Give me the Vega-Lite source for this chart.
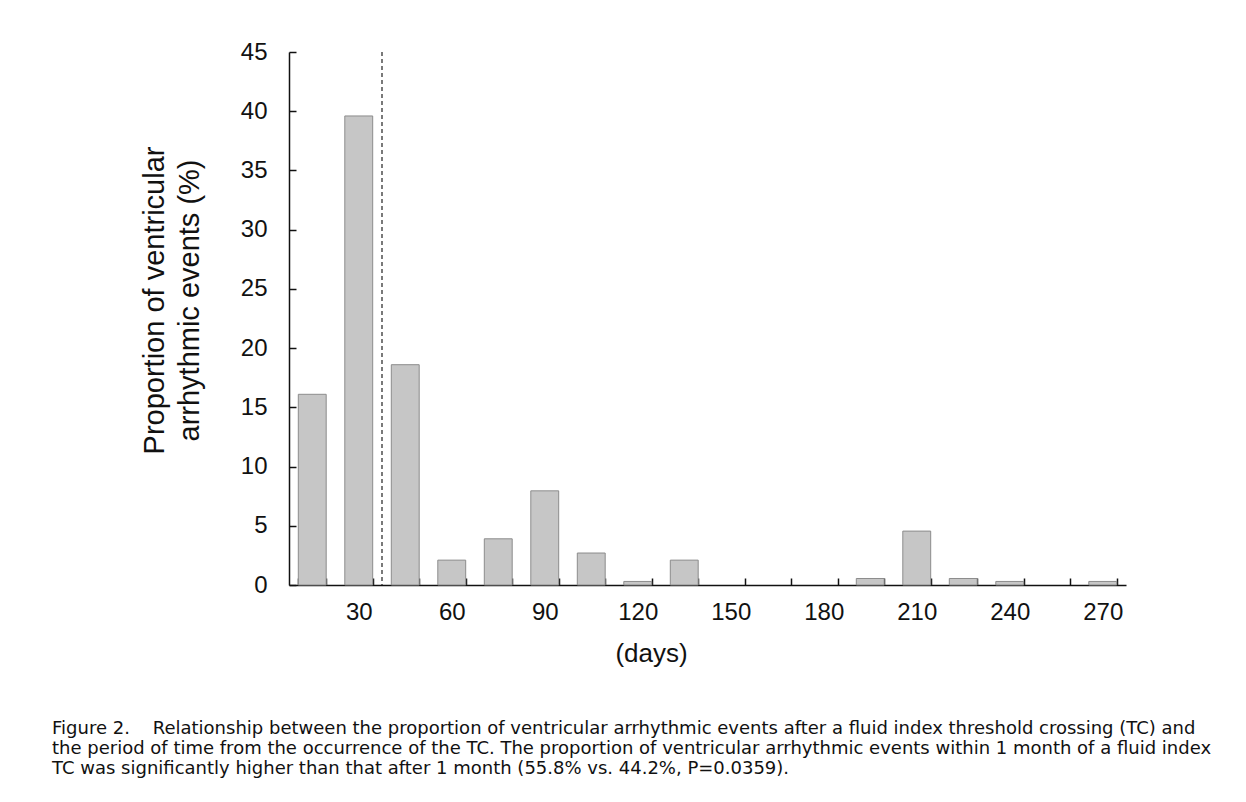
{
  "$schema": "https://vega.github.io/schema/vega-lite/v6.json",
  "autosize": {"type": "none"},
  "padding": {"left": 289, "top": 52, "right": 120, "bottom": 217},
  "width": 837,
  "height": 533,
  "background": "white",
  "config": {
    "view": {"stroke": null},
    "font": "Liberation Sans",
    "axis": {
      "domainColor": "#111",
      "domainWidth": 1.5,
      "tickColor": "#111",
      "tickWidth": 1.5,
      "labelColor": "#111",
      "titleColor": "#111",
      "labelFont": "Liberation Sans",
      "titleFont": "Liberation Sans",
      "labelFontSize": 24,
      "titleFontSize": 26,
      "titleFontWeight": "normal",
      "grid": false
    }
  },
  "title": {
    "text": [
      "Figure 2.\u00a0\u00a0\u00a0\u00a0Relationship between the proportion of ventricular arrhythmic events after a fluid index threshold crossing (TC) and",
      "the period of time from the occurrence of the TC. The proportion of ventricular arrhythmic events within 1 month of a fluid index",
      "TC was significantly higher than that after 1 month (55.8% vs. 44.2%, P=0.0359)."
    ],
    "orient": "bottom",
    "anchor": "start",
    "frame": "group",
    "dx": -237,
    "offset": 54,
    "font": "DejaVu Sans",
    "fontSize": 18,
    "fontWeight": "normal",
    "lineHeight": 20,
    "color": "#111"
  },
  "data": {
    "values": [
      {"day": 15, "pct": 16.1},
      {"day": 30, "pct": 39.6},
      {"day": 45, "pct": 18.6},
      {"day": 60, "pct": 2.1},
      {"day": 75, "pct": 3.9},
      {"day": 90, "pct": 7.95},
      {"day": 105, "pct": 2.7},
      {"day": 120, "pct": 0.3},
      {"day": 135, "pct": 2.1},
      {"day": 150, "pct": 0},
      {"day": 165, "pct": 0},
      {"day": 180, "pct": 0},
      {"day": 195, "pct": 0.55},
      {"day": 210, "pct": 4.55},
      {"day": 225, "pct": 0.55},
      {"day": 240, "pct": 0.3},
      {"day": 255, "pct": 0},
      {"day": 270, "pct": 0.3}
    ]
  },
  "layer": [
    {
      "mark": {"type": "bar", "fill": "#c6c6c6", "stroke": "#8c8c8c", "strokeWidth": 1},
      "encoding": {
        "x": {
          "field": "day",
          "type": "ordinal",
          "sort": null,
          "scale": {"paddingInner": 0.4, "paddingOuter": 0.2},
          "axis": {
            "title": "(days)",
            "labelAngle": 0,
            "labelExpr": "datum.value % 30 == 0 ? datum.label : ''",
            "tickBand": "extent",
            "tickSize": -7,
            "labelPadding": 22,
            "titlePadding": 16,
            "titleX": 362
          }
        },
        "y": {
          "field": "pct",
          "type": "quantitative",
          "scale": {"domain": [0, 45], "nice": false},
          "axis": {
            "title": ["Proportion of ventricular", "arrhythmic events (%)"],
            "titleFontSize": 29,
            "values": [0, 5, 10, 15, 20, 25, 30, 35, 40, 45],
            "tickSize": -7,
            "labelPadding": 29,
            "titlePadding": 36,
            "titleY": 248,
            "titleLineHeight": 35
          }
        },
        "strokeOpacity": {"condition": {"test": "datum.pct == 0", "value": 0}, "value": 1}
      }
    },
    {
      "data": {"values": [{"day": 30}]},
      "mark": {"type": "rule", "stroke": "#222", "strokeWidth": 1.2, "strokeDash": [4, 3]},
      "encoding": {
        "x": {"field": "day", "type": "ordinal", "bandPosition": 1.3333}
      }
    }
  ]
}
